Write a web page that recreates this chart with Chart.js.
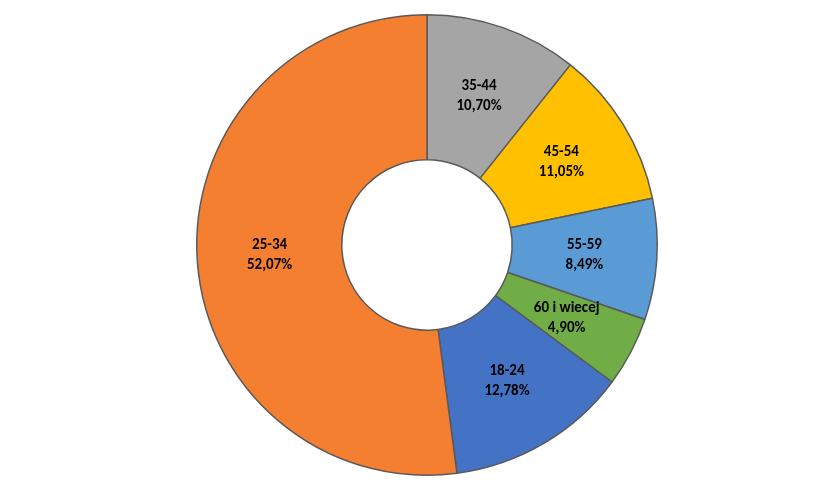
<!DOCTYPE html>
<html>
<head>
<meta charset="utf-8">
<script src="https://cdn.jsdelivr.net/npm/chart.js@4/dist/chart.umd.min.js"></script>
<style>
  html, body { margin: 0; padding: 0; background: #fff; }
  #wrap { width: 838px; height: 499px; }
</style>
</head>
<body>
<div id="wrap"><canvas id="chart"></canvas></div>
<script>
const categories = ["35-44", "45-54", "55-59", "60 i wiecej", "18-24", "25-34"];
const shares = [10.70, 11.05, 8.49, 4.90, 12.78, 52.07];
const colors = ["#a5a5a5", "#ffc000", "#5b9bd5", "#70ad47", "#4472c4", "#f47f30"];

const labelPlugin = {
  id: "sliceLabels",
  afterDatasetsDraw(chart) {
    const ctx = chart.ctx;
    const meta = chart.getDatasetMeta(0);
    ctx.save();
    ctx.font = "bold 15px Carlito, 'Liberation Sans', sans-serif";
    ctx.fillStyle = "#000";
    ctx.textAlign = "center";
    ctx.textBaseline = "middle";
    meta.data.forEach((arc, i) => {
      const p = arc.tooltipPosition();
      const txt = shares[i].toFixed(2).replace(".", ",") + "%";
      ctx.fillText(categories[i], p.x, p.y - 10);
      ctx.fillText(txt, p.x, p.y + 10);
    });
    ctx.restore();
  }
};

new Chart(document.getElementById("chart").getContext("2d"), {
  type: "doughnut",
  data: {
    labels: categories,
    datasets: [{
      data: shares,
      backgroundColor: colors,
      borderColor: "#5a5a5a",
      borderWidth: 1.5
    }]
  },
  options: {
    responsive: true,
    maintainAspectRatio: false,
    animation: false,
    cutout: "37%",
    rotation: 0,
    layout: { padding: { top: 14, bottom: 23, left: 16, right: 0 } },
    plugins: {
      legend: { display: false },
      tooltip: { enabled: false }
    }
  },
  plugins: [labelPlugin]
});
</script>
</body>
</html>
